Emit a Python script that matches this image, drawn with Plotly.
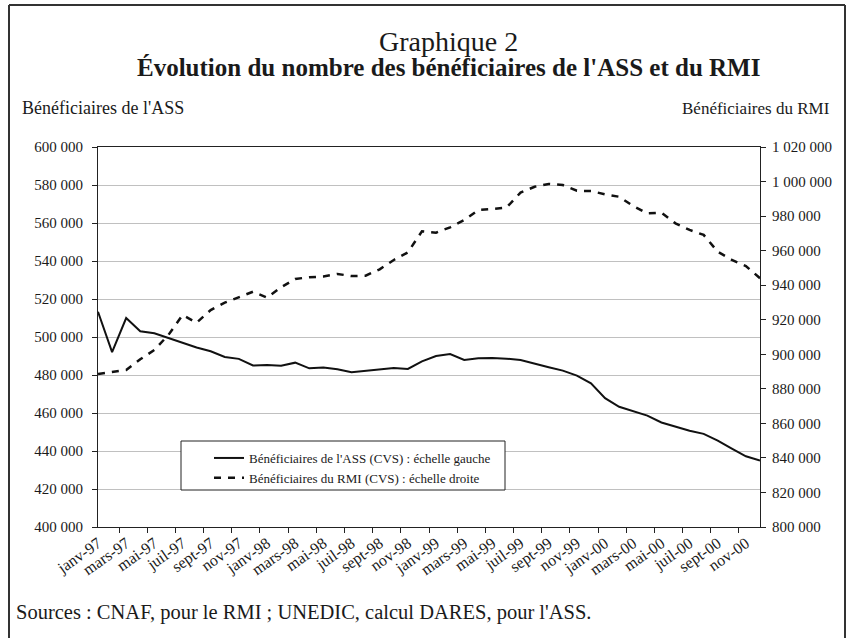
import plotly.graph_objects as go

# ---------------- data ----------------
month_abbr = ["janv", "févr", "mars", "avr", "mai", "juin",
              "juil", "août", "sept", "oct", "nov", "déc"]
years = ["97", "98", "99", "00"]
months = [f"{m}-{y}" for y in years for m in month_abbr]

ass_values = [
    513300, 492000, 510000, 503000, 502000, 499500, 497000, 494500,
    492500, 489500, 488500, 485000, 485300, 484900, 486500, 483500,
    484000, 483000, 481500, 482300, 483000, 483700, 483200, 487200,
    490000, 491000, 487900, 488800, 488900, 488600, 487900, 486200,
    484100, 482300, 479700, 475600, 467800, 463300, 461000, 458600,
    455000, 452700, 450700, 449000, 445500, 441300, 437200, 435000,
]

rmi_values = [
    888600, 889900, 890900, 897100, 902500, 911200, 922700, 918300,
    925600, 929900, 933000, 936200, 932800, 938800, 943600, 944600,
    945000, 946500, 945300, 945500, 949200, 954600, 959000, 971200,
    970400, 973500, 977700, 983500, 984100, 984900, 993600, 997000,
    998600, 998000, 994700, 994500, 992600, 991200, 985800, 981600,
    982000, 975800, 972000, 969100, 959400, 954600, 951100, 944000,
]

ass_name = "Bénéficiaires de l'ASS (CVS) : échelle gauche"
rmi_name = "Bénéficiaires du RMI (CVS) : échelle droite"
title_line1 = "Graphique 2"
title_line2 = "Évolution du nombre des bénéficiaires de l'ASS et du RMI"
left_axis_title = "Bénéficiaires de l'ASS"
right_axis_title = "Bénéficiaires du RMI"
source_text = "Sources : CNAF, pour le RMI ; UNEDIC, calcul DARES, pour l'ASS."

# ---------------- layout geometry ----------------
W, H = 847, 638
PL, PR, PT, PB = 98, 760, 147, 527   # plot area in pixels


def px(x):
    return (x - PL) / (PR - PL)


def py(y):
    return (PB - y) / (PB - PT)


FONT = "Liberation Serif"
TXT = "#1a1a1a"

fig = go.Figure()
fig.add_trace(go.Scatter(
    x=months, y=ass_values, name=ass_name, mode="lines",
    line=dict(color="#111111", width=2), yaxis="y"))
fig.add_trace(go.Scatter(
    x=months, y=rmi_values, name=rmi_name, mode="lines",
    line=dict(color="#111111", width=2.5, dash="7px,7px"), yaxis="y2"))

fig.update_layout(
    width=W, height=H,
    margin=dict(l=PL, r=W - PR, t=PT, b=H - PB, pad=0),
    paper_bgcolor="white", plot_bgcolor="white",
    separators=", ",
    font=dict(family=FONT, color=TXT, size=13),
    showlegend=True,
    legend=dict(
        x=px(209), y=py(443), xanchor="left", yanchor="top",
        bgcolor="rgba(0,0,0,0)", borderwidth=0,
        font=dict(family=FONT, size=13, color=TXT),
        tracegroupgap=0, itemwidth=30,
    ),
    xaxis=dict(
        type="category", dtick=2, tickson="boundaries",
        tickangle=-35, ticks="outside", ticklen=5, tickcolor="#222",
        showline=True, linecolor="#222", linewidth=1, mirror=True,
        showgrid=False, zeroline=False,
        tickfont=dict(family=FONT, size=16, color=TXT),
    ),
    yaxis=dict(
        range=[400000, 600000], dtick=20000, tickformat=",d",
        ticks="outside", ticklen=5, tickcolor="#222",
        showline=True, linecolor="#222", linewidth=1,
        showgrid=True, gridcolor="#c0c0c0", gridwidth=1,
        zeroline=False, ticklabelstandoff=6,
        tickfont=dict(family=FONT, size=15, color=TXT),
    ),
    yaxis2=dict(
        range=[800000, 1020000], dtick=20000, tickformat=",d",
        overlaying="y", side="right",
        ticks="outside", ticklen=5, tickcolor="#222",
        showline=True, linecolor="#222", linewidth=1,
        showgrid=False, zeroline=False, ticklabelstandoff=3,
        tickfont=dict(family=FONT, size=15, color=TXT),
    ),
)

annotations = [
    dict(text=title_line1, x=px(448), y=py(42), size=28),
    dict(text=f"<b>{title_line2}</b>", x=px(448), y=py(67), size=25),
    dict(text=left_axis_title, x=px(20), y=py(108), xanchor="left", size=18),
    dict(text=right_axis_title, x=px(832), y=py(108), xanchor="right", size=17),
    dict(text=source_text, x=px(14), y=py(612), xanchor="left", size=20.5),
]
for a in annotations:
    fig.add_annotation(xref="paper", yref="paper", yanchor="middle",
                       xanchor=a.get("xanchor", "center"),
                       showarrow=False, text=a["text"], x=a["x"], y=a["y"],
                       font=dict(family=FONT, color=TXT, size=a["size"]))

# legend box
fig.add_shape(type="rect", xref="paper", yref="paper", layer="above",
              x0=px(181), x1=px(505), y0=py(441), y1=py(490),
              fillcolor="white", line=dict(color="#222", width=1))

# outer frame (top, left, right edges)
frame = dict(color="#333", width=2)
fig.add_shape(type="line", xref="paper", yref="paper",
              x0=px(9), x1=px(845), y0=py(5), y1=py(5), line=frame)
fig.add_shape(type="line", xref="paper", yref="paper",
              x0=px(9), x1=px(9), y0=py(5), y1=py(640), line=frame)
fig.add_shape(type="line", xref="paper", yref="paper",
              x0=px(845), x1=px(845), y0=py(5), y1=py(640), line=frame)

fig.write_html("out.html",
               config={"displayModeBar": False},
               post_script="document.body.style.margin='0';"
                           "document.body.style.overflow='hidden';")
